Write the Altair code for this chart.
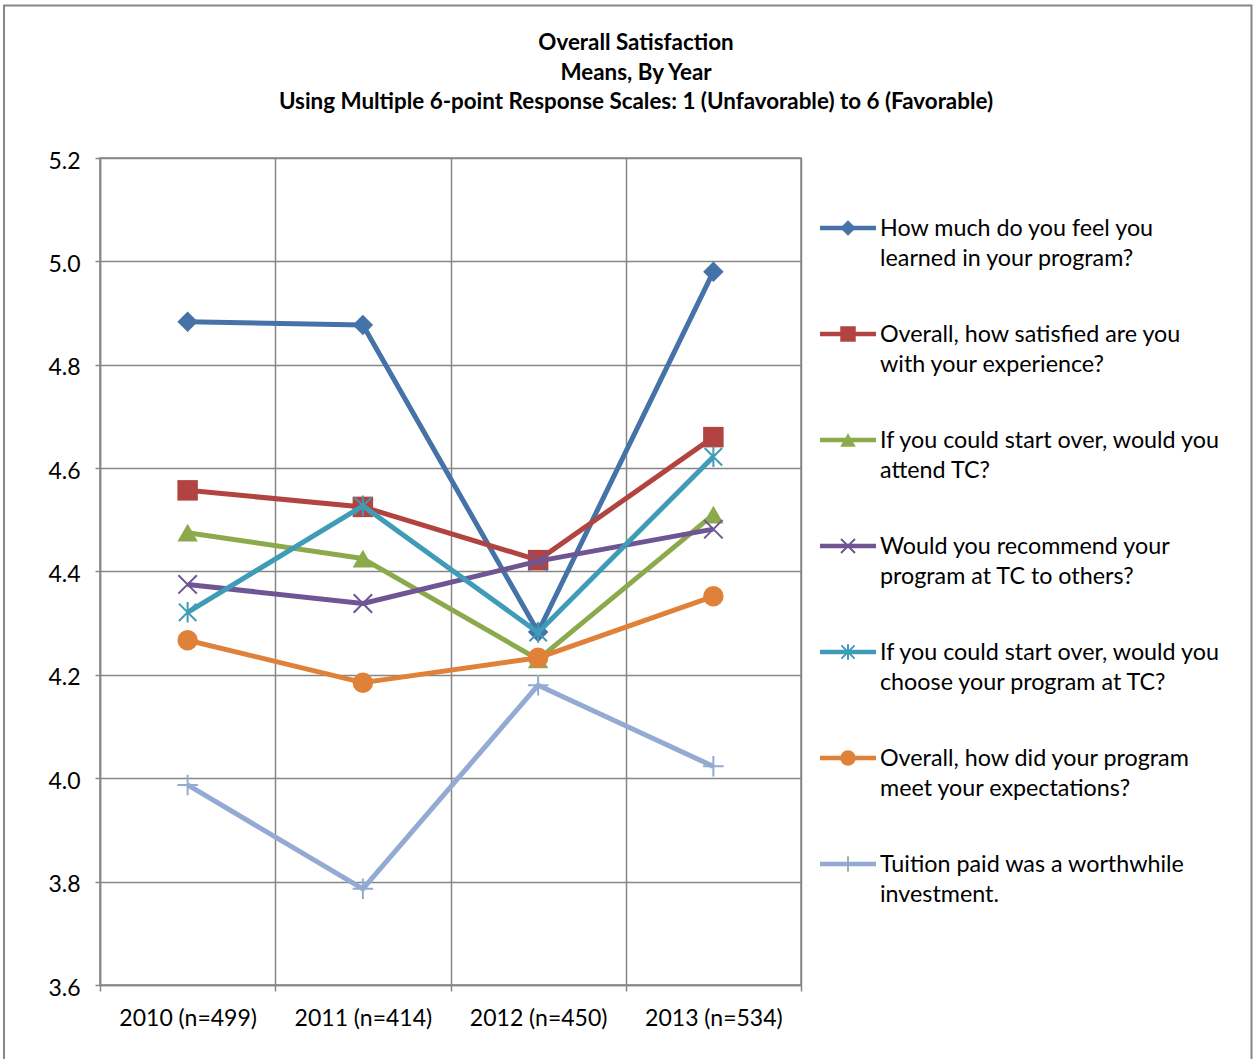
import altair as alt
import pandas as pd

# Category labels (x) and series (one line each)
years = ["2010 (n=499)", "2011 (n=414)", "2012 (n=450)", "2013 (n=534)"]

series = [
    "How much do you feel you\nlearned in your program?",
    "Overall, how satisfied are you\nwith your experience?",
    "If you could start over, would you\nattend TC?",
    "Would you recommend your\nprogram at TC to others?",
    "If you could start over, would you\nchoose your program at TC?",
    "Overall, how did your program\nmeet your expectations?",
    "Tuition paid was a worthwhile\ninvestment.",
]

learned = [4.883, 4.877, 4.283, 4.980]
satisfied = [4.557, 4.525, 4.422, 4.660]
attend = [4.475, 4.425, 4.230, 4.510]
recommend = [4.375, 4.338, 4.420, 4.482]
choose = [4.321, 4.527, 4.282, 4.622]
expectations = [4.267, 4.185, 4.233, 4.352]
tuition = [3.987, 3.786, 4.180, 4.023]
means = [learned, satisfied, attend, recommend, choose, expectations, tuition]

colors = ["#4572A7", "#B14441", "#8CAA4B", "#6F5594", "#3F9CB6", "#E0813A", "#93AAD2"]

# Marker shapes: built-in symbols and stroked SVG paths for x / asterisk / plus
X_PATH = "M-0.9,-0.9L0.9,0.9M-0.9,0.9L0.9,-0.9"
ASTERISK_PATH = "M-0.85,-0.85L0.85,0.85M-0.85,0.85L0.85,-0.85M0,-1L0,1"
PLUS_PATH = "M-1,0L1,0M0,-1L0,1"
shapes = ["diamond", "square", "triangle-up", X_PATH, ASTERISK_PATH, "circle", PLUS_PATH]
filled = [True, True, True, False, False, True, False]

title_lines = [
    "Overall Satisfaction",
    "Means, By Year",
    "Using Multiple 6-point Response Scales: 1 (Unfavorable) to 6 (Favorable)",
]
y_ticks = [3.6, 3.8, 4.0, 4.2, 4.4, 4.6, 4.8, 5.0, 5.2]

FONT = "Lato"
GRID = "#868686"

rows = [
    {"series": s, "year": yr, "mean": v}
    for s, vals in zip(series, means)
    for yr, v in zip(years, vals)
]
df = pd.DataFrame(rows)
legend_df = pd.DataFrame({"series": series, "filled": filled})
single = pd.DataFrame({"k": [0]})

color_scale = alt.Scale(domain=series, range=colors)
shape_scale = alt.Scale(domain=series, range=shapes)
color_enc = alt.Color("series:N", scale=color_scale, legend=None)
shape_enc = alt.Shape("series:N", scale=shape_scale, legend=None)

x_enc = alt.X(
    "year:N",
    sort=years,
    scale=alt.Scale(type="band", paddingInner=0, paddingOuter=0),
    axis=alt.Axis(
        title=None, labelAngle=0, tickBand="extent", grid=True,
        tickSize=6, labelPadding=16,
    ),
)
y_enc = alt.Y(
    "mean:Q",
    scale=alt.Scale(domain=[3.6, 5.2], nice=False, zero=False),
    axis=alt.Axis(
        title=None, values=y_ticks, format=".1f", grid=True,
        tickSize=5, labelPadding=15, labelOffset=3,
    ),
)

# Each series: line first, then its markers, in series order
series_layers = []
for s, is_filled in zip(series, filled):
    base = alt.Chart(df).transform_filter(alt.FieldEqualPredicate(field="series", equal=s))
    series_layers.append(
        base.mark_line(strokeWidth=5, strokeJoin="round").encode(
            x=x_enc, y=y_enc, color=color_enc
        )
    )
    series_layers.append(
        base.mark_point(filled=is_filled, opacity=1, size=420, strokeWidth=2).encode(
            x=x_enc, y=y_enc, color=color_enc, shape=shape_enc
        )
    )
main = alt.layer(*series_layers)

# Legend at the right of the plot: line sample, marker and two-line label
leg_y = alt.Y(
    "series:N", sort=series,
    scale=alt.Scale(type="point", range=[70, 706], padding=0),
    axis=None,
)
leg_base = alt.Chart(legend_df)
leg_rule = leg_base.mark_rule(strokeWidth=4.5).encode(
    x=alt.value(720), x2=alt.value(776), y=leg_y, color=color_enc
)
leg_filled = leg_base.transform_filter("datum.filled").mark_point(
    filled=True, opacity=1, size=240
).encode(x=alt.value(748), y=leg_y, color=color_enc, shape=shape_enc)
leg_open = leg_base.transform_filter("!datum.filled").mark_point(
    filled=False, opacity=1, size=240, strokeWidth=2
).encode(x=alt.value(748), y=leg_y, color=color_enc, shape=shape_enc)
leg_text = leg_base.mark_text(
    align="left", baseline="alphabetic", dy=8, font=FONT, fontSize=23.3,
    lineBreak="\n", lineHeight=30, color="black",
).encode(x=alt.value(780), y=leg_y, text="series:N")
legend = alt.layer(leg_rule, leg_filled, leg_open, leg_text)

# Three-line bold heading
heading = alt.Chart(single).mark_text(
    text=title_lines, align="center", baseline="alphabetic", font=FONT,
    fontSize=22.4, fontWeight="bold", lineHeight=29.5, color="black",
).encode(x=alt.value(536), y=alt.value(-108))

# Outer chart frame
frame = alt.Chart(single).mark_rect(
    filled=False, stroke=GRID, strokeWidth=2
).encode(x=alt.value(-96), x2=alt.value(1151.5), y=alt.value(-152.5), y2=alt.value(907))

chart = (
    alt.layer(frame, main, legend, heading)
    .resolve_scale(y="independent")
    .properties(
        width=701,
        height=827,
        autosize=alt.AutoSizeParams(type="none"),
        padding={"left": 100, "top": 158, "right": 453, "bottom": 74},
        background="white",
    )
    .configure_view(stroke=GRID, strokeWidth=1.5)
    .configure_axis(
        gridColor=GRID, gridWidth=1.5, gridOpacity=1,
        domainColor=GRID, domainWidth=1.5,
        tickColor=GRID, tickWidth=1.5,
        labelFont=FONT, labelFontSize=23, labelColor="black",
    )
)

chart.save("out.html", embed_options={"renderer": "svg", "actions": False})
